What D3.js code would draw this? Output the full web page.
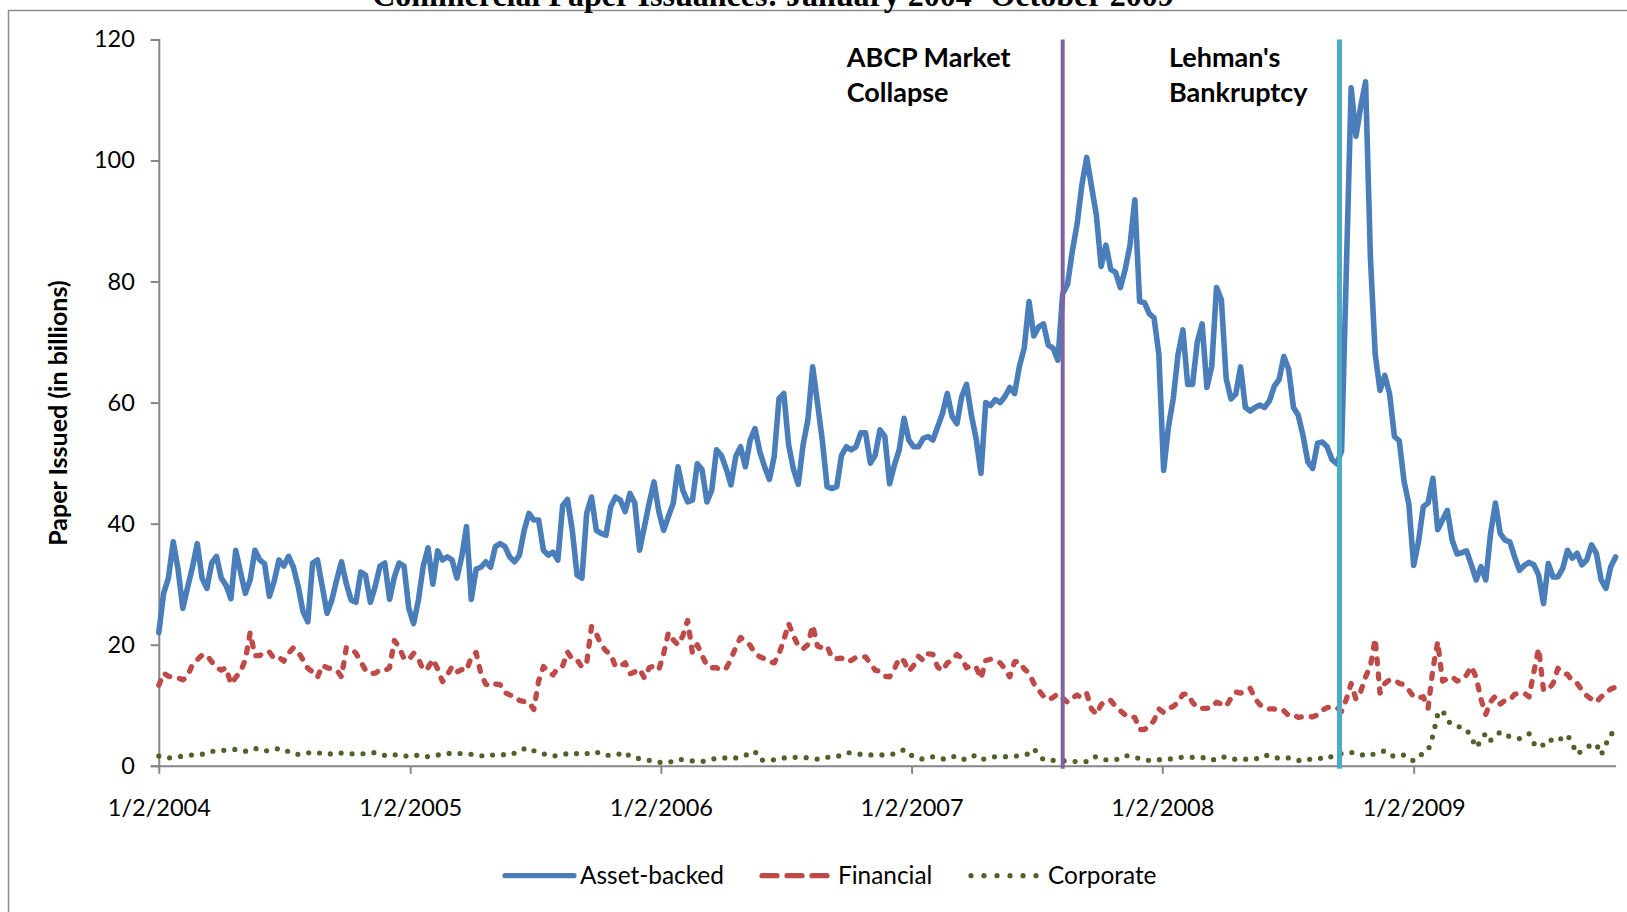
<!DOCTYPE html>
<html>
<head>
<meta charset="utf-8">
<script src="https://cdn.jsdelivr.net/npm/d3@7/dist/d3.min.js"></script>
<style>
  html, body { margin: 0; padding: 0; background: #fff; }
  svg { display: block; }
  text { font-family: Lato, "Open Sans", sans-serif; fill: #000; }
</style>
</head>
<body>
<svg id="chart" width="1627" height="912"></svg>
<script>
// ---------------- DATA ----------------
const title = "Commercial Paper Issuances: January 2004- October 2009";
const firstWeek = "2004-01-02";   // weekly observations start here, one every 7 days
const lastWeek = "2009-10-23";
const xTickLabels = ["1/2/2004", "1/2/2005", "1/2/2006", "1/2/2007", "1/2/2008", "1/2/2009"];
const yTicks = [0, 20, 40, 60, 80, 100, 120];
const seriesNames = ["Asset-backed", "Financial", "Corporate"];
const eventDates = ["2007-08-10", "2008-09-16"];
const eventLabels = [["ABCP Market", "Collapse"], ["Lehman's", "Bankruptcy"]];

const assetBacked = [
  22, 28.5, 31, 37, 32.5, 26, 29.5, 32.8, 36.7, 31,
  29.3, 33.5, 34.6, 31, 29.8, 27.6, 35.6, 32, 28.5, 30.7,
  35.6, 34, 33.4, 28, 30.5, 34, 33, 34.6, 32.8, 29.6,
  25.5, 23.8, 33.5, 34, 29.6, 25.2, 27.4, 30.7, 33.7, 30.1,
  27.4, 27, 32, 31.5, 27, 29.6, 33, 33.5, 27.5, 31.2,
  33.5, 33, 26, 23.5, 27.4, 33, 36, 30, 35.5, 34,
  34.5, 34, 31, 34.5, 39.5, 27.5, 32.5, 32.8, 33.7, 32.8,
  36.2, 36.7, 36.2, 34.5, 33.7, 34.8, 38.9, 41.7, 40.6, 40.6,
  35.6, 34.8, 35.3, 34, 43, 44, 38.9, 31.5, 31, 41.7,
  44.4, 38.9, 38.4, 38.1, 42.8, 44.4, 43.9, 42, 45, 43.4,
  35.6, 39.5, 43.4, 46.9, 42, 38.9, 41.2, 43.4, 49.4, 45.5,
  43.6, 43.9, 49.9, 48.9, 43.6, 45.5, 52.2, 51.3, 49.1, 46.4,
  51.1, 52.7, 49.4, 53.8, 55.7, 51.9, 49.4, 47.3, 51.1, 60.7,
  61.5, 53, 49, 46.5, 53, 57.1, 65.9, 59.9, 53.8, 46.1,
  45.8, 46.1, 51.3, 52.7, 52.2, 52.7, 55, 55, 50, 51.3,
  55.5, 54.4, 46.6, 49.7, 52.2, 57.4, 53.8, 52.7, 52.7, 54.1,
  54.4, 53.8, 56, 58.2, 61.5, 57.7, 56.5, 61, 63, 58,
  54, 48.3, 60, 59.5, 60.5, 60, 61, 62.5, 61.5, 66,
  69, 76.7, 71, 72.5, 73, 69.5, 69, 67, 78, 79.5,
  85, 89.5, 96, 100.5, 95.7, 91, 82.5, 86, 82, 81.5,
  79, 82, 86, 93.5, 76.7, 76.5, 74.7, 74, 68, 48.8,
  56, 60.7, 68, 72, 63, 63, 70, 73, 62.5, 66,
  79, 77, 64, 60.6, 61.4, 65.9, 59.2, 58.6, 59.2, 59.6,
  59.2, 60.3, 62.7, 63.8, 67.6, 65.5, 59.2, 57.9, 54.5, 50.2,
  49.1, 53.3, 53.5, 52.7, 50.6, 49.9, 52, 82, 112, 104,
  109, 113, 84, 68, 62, 64.5, 61.4, 54.4, 53.7, 47,
  43.2, 33.1, 37, 42.8, 43.4, 47.5, 39, 40.6, 42.2, 37.3,
  35, 35.2, 35.5, 33.2, 30.7, 32.9, 30.7, 38.4, 43.4, 38.4,
  37.3, 37, 34.5, 32.3, 33.1, 33.6, 33.2, 31.5, 26.8, 33.4,
  31.2, 31.2, 32.6, 35.6, 34.3, 35.1, 33.2, 34, 36.5, 35.1,
  30.7, 29.3, 32.9, 34.5
];

const financial = [
  13.3, 15.3, 14.8, 14.6, 14.5, 14.2, 14.8, 16.8, 17.5, 18.3,
  18.3, 17.2, 16.2, 15.8, 16.2, 13.5, 14.6, 15.6, 17.5, 22,
  18.2, 18.2, 18.8, 18.8, 17.7, 17.9, 17.3, 18.6, 19.5, 18.8,
  17.5, 16.1, 15.5, 14.6, 16.6, 16.2, 16, 15.8, 14.7, 19.5,
  19.4, 18.6, 17.2, 15.8, 15.2, 15.3, 15.8, 15.7, 16.2, 20.7,
  19.6, 17.7, 17.5, 18.6, 17.7, 15.8, 16.2, 17.6, 16, 13.9,
  15, 16.4, 15.5, 15.9, 15.7, 18, 18.7, 15.2, 13.5, 13.1,
  13.5, 13.4, 12.1, 11.7, 11.5, 10.8, 10.6, 10.5, 9.3, 14,
  16.4, 15.6, 15, 16.2, 16.5, 18.8, 17.6, 17.5, 16.3, 17,
  23, 21.8, 20, 19, 18.4, 16.4, 16.5, 17, 15.2, 15.5,
  16, 14.5, 16.2, 16.5, 15.9, 18.5, 22, 20.8, 20, 21.5,
  24, 18.6, 20, 18.2, 16.6, 16.2, 16.2, 15.8, 16.1, 17.6,
  19.6, 21.2, 20.6, 19.9, 18.6, 18, 17.7, 17.2, 17, 18.5,
  20.8, 23.5, 21.5, 19.8, 19.3, 20, 23.2, 19.8, 19.5, 19.8,
  17.8, 17.7, 17.8, 17.2, 17.4, 17.9, 17.9, 18, 16.9, 15.8,
  15.6, 14.8, 14.7, 16, 17.8, 17.3, 15.6, 16.6, 18.1, 17.4,
  18.5, 18.4, 16.3, 15.7, 17, 17.4, 18.4, 17.8, 16.2, 16.6,
  16.3, 14.4, 17.4, 17.6, 17.4, 17, 16, 14.7, 17.2, 17.2,
  16, 15.3, 13.6, 12.5, 11.5, 10.9, 11.3, 11.9, 11.2, 10.5,
  11.2, 11.7, 11.2, 11.9, 9.4, 8.5, 10.1, 10.8, 10.8, 9.8,
  9.1, 8.4, 8, 8, 6, 6, 6.5, 7.5, 9.4, 8.8,
  9.5, 9.8, 10.5, 11.8, 11.9, 10.5, 9.6, 9.5, 9.5, 9.6,
  10.5, 10.2, 9.8, 11.2, 12.2, 12, 12.4, 12.8, 11.1, 10.1,
  9.6, 9.4, 9.4, 9, 9.1, 8.3, 8.4, 8, 8.1, 8.1,
  8.1, 8.4, 9.2, 9.6, 9.8, 9.6, 9, 11, 13.6, 11,
  12.3, 14.7, 16.5, 21, 12, 13.6, 14.2, 14.2, 13.6, 13.4,
  12.5, 11.4, 11.2, 11.4, 9.5, 16, 20.5, 14, 14.4, 14.7,
  14, 14.2, 15, 16.4, 14.6, 11, 8.5, 10.6, 11.5, 10.2,
  10.8, 10.9, 11.8, 12, 12, 11.4, 15.5, 19.4, 12.5, 12.6,
  13.6, 16.1, 15.3, 15.1, 14, 13.6, 12.5, 11.6, 11, 10.5,
  11.4, 12, 12.7, 13
];

const corporate = [
  1.6, 1.5, 1.3, 1.4, 1.5, 1.6, 1.7, 1.8, 1.9, 1.9,
  2.1, 2.4, 2.4, 2.5, 2.6, 2.7, 2.7, 2.5, 2.4, 2.6,
  2.9, 2.6, 2.4, 2.6, 2.8, 2.8, 2.8, 2.3, 1.9, 1.9,
  1.9, 2.1, 2.3, 2.2, 2.0, 1.9, 2.0, 2.2, 2.1, 2.1,
  2.0, 1.9, 1.9, 2.1, 2.1, 2.2, 2.0, 1.7, 1.6, 1.8,
  1.9, 1.7, 1.5, 1.6, 1.8, 1.7, 1.5, 1.6, 1.8, 1.8,
  2.0, 2.1, 2.1, 2.0, 2.0, 1.9, 1.9, 1.7, 1.5, 1.7,
  1.9, 1.9, 1.8, 1.8, 2.1, 2.6, 2.8, 3.0, 2.5, 2.1,
  2.0, 1.7, 1.6, 1.7, 1.9, 2.0, 2.2, 2.0, 1.8, 2.0,
  2.3, 2.3, 1.9, 1.7, 1.8, 1.8, 2.0, 2.3, 1.5, 1.3,
  1.2, 1.1, 0.9, 0.7, 0.6, 0.5, 0.5, 0.8, 1.1, 1.0,
  0.9, 0.8, 0.7, 0.7, 0.9, 1.1, 1.2, 1.3, 1.3, 1.2,
  1.3, 1.5, 1.7, 2.2, 2.4, 1.0, 0.9, 0.9, 1.0, 1.2,
  1.3, 1.3, 1.4, 1.4, 1.4, 1.3, 1.2, 1.1, 1.2, 1.4,
  1.5, 1.5, 1.8, 2.1, 2.2, 2.0, 1.9, 1.9, 1.8, 1.8,
  1.8, 1.8, 1.8, 2.0, 2.2, 2.7, 2.0, 1.5, 1.2, 1.1,
  1.3, 1.5, 1.3, 1.1, 1.3, 1.6, 1.4, 1.0, 1.2, 1.7,
  1.6, 1.0, 1.2, 1.4, 1.5, 1.5, 1.5, 1.5, 1.6, 1.6,
  1.8, 2.0, 2.8, 1.9, 1.0, 0.9, 0.9, 0.8, 0.8, 0.8,
  0.7, 0.7, 0.6, 0.7, 1.4, 1.5, 1.2, 1.0, 1.0, 1.0,
  1.3, 1.7, 1.6, 1.4, 1.2, 1.0, 0.9, 1.0, 1.0, 1.1,
  1.1, 1.2, 1.4, 1.4, 1.4, 1.4, 1.4, 1.4, 1.1, 0.9,
  1.2, 1.5, 1.4, 1.1, 1.1, 1.1, 1.1, 1.1, 1.1, 1.4,
  1.8, 1.6, 1.3, 1.3, 1.4, 1.3, 1.1, 0.9, 0.8, 1.0,
  1.2, 1.3, 1.2, 1.1, 1.6, 2.0, 2.0, 2.2, 2.2, 2.2,
  1.9, 1.6, 1.8, 2.0, 2.2, 2.5, 1.9, 1.5, 1.6, 1.8,
  1.3, 0.8, 1.5, 2.1, 2.5, 5.0, 8.5, 9.2, 7.5, 6.8,
  6.5, 6.4, 6.0, 4.7, 3.0, 4.2, 5.4, 4.2, 4.8, 5.6,
  5.2, 4.8, 4.6, 4.5, 4.9, 5.3, 3.7, 3.0, 3.5, 4.4,
  4.1, 4.0, 4.8, 5.1, 3.6, 1.9, 2.5, 3.0, 3.5, 3.6,
  1.8, 3.6, 5.3, 5.3
];

// ---------------- DRAWING ----------------
const parse = d3.timeParse("%Y-%m-%d");
const parseLabel = d3.timeParse("%-m/%-d/%Y");
const start = parse(firstWeek);
const dates = assetBacked.map((_, i) => d3.timeDay.offset(start, 7 * i));

const svg = d3.select("#chart");

const x = d3.scaleTime()
  .domain([start, parse(lastWeek)])
  .range([158.8, 1615.6]);
const y = d3.scaleLinear().domain([0, 120]).range([765.8, 39.4]);

const axisColor = "#868686";

// outer chart border (extends past the window)
svg.append("rect")
  .attr("x", 8.5).attr("y", 10.5)
  .attr("width", 1700).attr("height", 1000)
  .attr("fill", "none").attr("stroke", "#8a8a8a").attr("stroke-width", 1.5);

// title (its top is cut off by the window edge, as in the original)
svg.append("text")
  .attr("x", 773).attr("y", 5.5)
  .attr("text-anchor", "middle")
  .style("font-family", "'Liberation Serif', 'Times New Roman', serif")
  .style("font-weight", "bold")
  .style("font-size", "32px")
  .text(title);

// y axis
const yAxis = d3.axisLeft(y).tickValues(yTicks).tickSize(8).tickPadding(16);
const gy = svg.append("g").attr("transform", "translate(158.8,0)").call(yAxis);
gy.select(".domain").attr("stroke", axisColor).attr("stroke-width", 2);
gy.selectAll(".tick line").attr("stroke", axisColor).attr("stroke-width", 2);
gy.selectAll(".tick text")
  .style("font-family", "Lato, sans-serif").style("font-size", "23.5px").attr("fill", "#000");

// x axis
const tickDates = xTickLabels.map(parseLabel);
const xAxis = d3.axisBottom(x).tickValues(tickDates)
  .tickFormat((d, i) => xTickLabels[i]).tickSize(8).tickPadding(26).tickSizeOuter(0);
const gx = svg.append("g").attr("transform", "translate(0,765.8)").call(xAxis);
gx.select(".domain").attr("stroke", axisColor).attr("stroke-width", 2);
gx.selectAll(".tick line").attr("stroke", axisColor).attr("stroke-width", 2);
gx.selectAll(".tick text")
  .style("font-family", "Lato, sans-serif").style("font-size", "23.5px").attr("fill", "#000");

// y axis title
svg.append("text")
  .attr("transform", "translate(67,413) rotate(-90)")
  .attr("text-anchor", "middle")
  .style("font-weight", "bold").style("font-size", "25px")
  .text("Paper Issued (in billions)");

// series
const styles = [
  { data: assetBacked, color: "#4A7EBB", dash: null, w: 5.6 },
  { data: financial, color: "#BE4B48", dash: "5,10", w: 5.3 },
  { data: corporate, color: "#4F6228", dash: "0,11", w: 5.2 }
];
const line = d3.line().x((d, i) => x(dates[i])).y(d => y(d));

// draw bottom series first so asset-backed is on top
[2, 1, 0].forEach(k => {
  const s = styles[k];
  svg.append("path")
    .datum(s.data)
    .attr("d", line)
    .attr("fill", "none")
    .attr("stroke", s.color)
    .attr("stroke-width", s.w)
    .attr("stroke-linejoin", "round")
    .attr("stroke-linecap", "round")
    .attr("stroke-dasharray", s.dash);
});

// event lines
const eventColors = ["#8064A2", "#4BACC6"];
const eventWidths = [4, 5];
eventDates.forEach((d, i) => {
  const ex = x(parse(d));
  svg.append("line")
    .attr("x1", ex).attr("x2", ex)
    .attr("y1", y(120)).attr("y2", y(0) + 3)
    .attr("stroke", eventColors[i]).attr("stroke-width", eventWidths[i]);
});

// event annotations
const annX = [846.7, 1169];
eventLabels.forEach((lines, i) => {
  lines.forEach((t, j) => {
    svg.append("text")
      .attr("x", annX[i]).attr("y", 67 + j * 35)
      .style("font-weight", "bold").style("font-size", "27px")
      .text(t);
  });
});

// legend
const legY = 875.7;
const legItems = [
  { x0: 505, x1: 574, tx: 580 },
  { x0: 762, x1: 830, tx: 838 },
  { x0: 971, x1: 1038, tx: 1048 }
];
const legDash = [null, "15,10", "0,13"];
legItems.forEach((it, i) => {
  svg.append("line")
    .attr("x1", it.x0).attr("x2", it.x1)
    .attr("y1", legY).attr("y2", legY)
    .attr("stroke", styles[i].color).attr("stroke-width", 5.2)
    .attr("stroke-linecap", "round")
    .attr("stroke-dasharray", legDash[i]);
  svg.append("text")
    .attr("x", it.tx).attr("y", legY).attr("dy", "0.36em")
    .style("font-size", "24.4px")
    .text(seriesNames[i]);
});
</script>
</body>
</html>
